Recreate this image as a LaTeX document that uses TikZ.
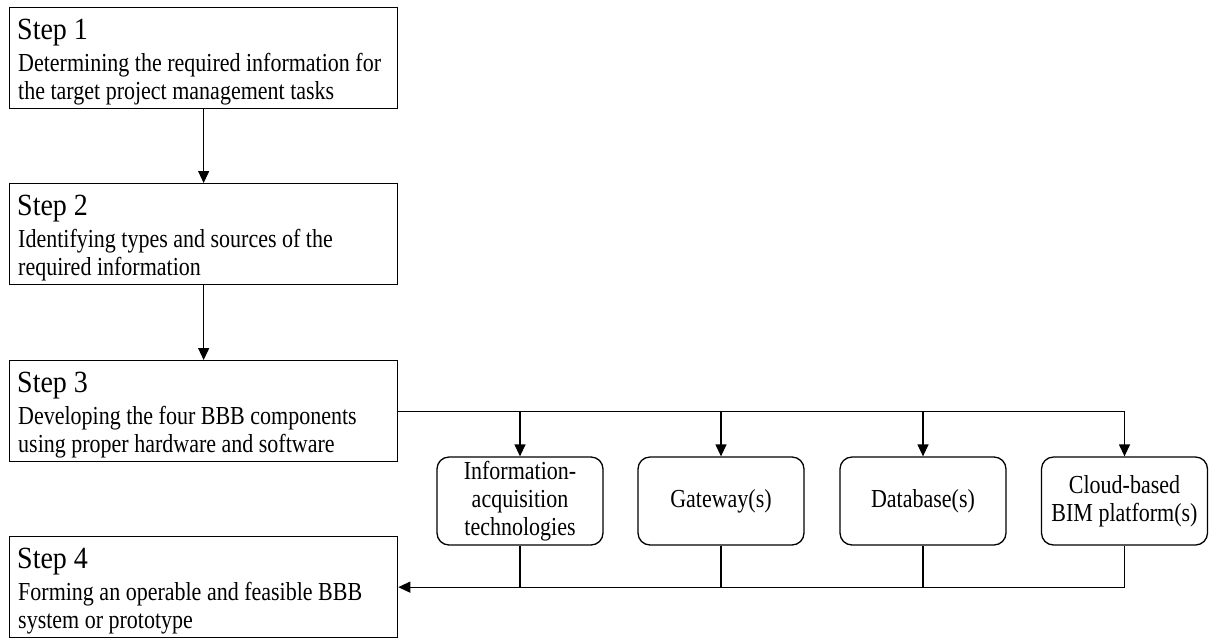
\documentclass[tikz,border=0pt]{standalone}
\usepackage{fontspec}
\setmainfont{Liberation Serif}
\usetikzlibrary{arrows.meta,calc}
\newcommand\talltxt[1]{\scalebox{1}[1.18]{#1}}
\newcommand\talltitle[1]{\scalebox{1}[1.1]{#1}}
\begin{document}
\begin{tikzpicture}[x=1pt,y=-1pt,
 stepbox/.style={draw,line width=1.3pt,minimum width=388pt,minimum height=101pt,inner sep=0pt,anchor=north west},
 comp/.style={draw,line width=1.3pt,rounded corners=12pt,minimum width=166pt,minimum height=88pt,align=center,font=\fontsize{22}{28}\selectfont,inner sep=0pt},
 ttl/.style={anchor=base west,inner sep=0pt,font=\fontsize{28}{32}\selectfont},
 body/.style={anchor=base west,inner sep=0pt,font=\fontsize{22}{28}\selectfont},
 conn/.style={line width=1.3pt},
 arr/.style={conn,-{Triangle[length=12pt,width=11pt]}}
]
\useasboundingbox (0,0) rectangle (1210,641);

% step boxes
\node[stepbox] (s1) at (9,7) {};
\node[stepbox] (s2) at (9,183) {};
\node[stepbox] (s3) at (9,360) {};
\node[stepbox] (s4) at (9,536) {};

\node[ttl] (t1) at (17,39) {\talltitle{Step 1}};
\node[body] (t1a) at (18,71) {\talltxt{Determining the required information for}};
\node[body] (t1b) at (18,99) {\talltxt{the target project management tasks}};

\node[ttl] (t2) at (17,215) {\talltitle{Step 2}};
\node[body] (t2a) at (18,247) {\talltxt{Identifying types and sources of the}};
\node[body] (t2b) at (18,275) {\talltxt{required information}};

\node[ttl] (t3) at (17,392) {\talltitle{Step 3}};
\node[body] (t3a) at (18,424) {\talltxt{Developing the four BBB components}};
\node[body] (t3b) at (18,452) {\talltxt{using proper hardware and software}};

\node[ttl] (t4) at (17,568) {\talltitle{Step 4}};
\node[body] (t4a) at (18,600) {\talltxt{Forming an operable and feasible BBB}};
\node[body] (t4b) at (18,628) {\talltxt{system or prototype}};

% component boxes
\node[comp] (c1) at (520,501) {\talltxt{Information-}\\\talltxt{acquisition}\\\talltxt{technologies}};
\node[comp] (c2) at (721,501) {\talltxt{Gateway(s)}};
\node[comp] (c3) at (923,501) {\talltxt{Database(s)}};
\node[comp] (c4) at (1124.5,501) {\talltxt{Cloud-based}\\\talltxt{BIM platform(s)}};

% connectors between steps
\draw[arr] (s1.south) -- (s2.north);
\draw[arr] (s2.south) -- (s3.north);

% step 3 to components
\draw[conn] (s3.east) -- (c4.north |- s3.east);
\foreach \c in {c1,c2,c3,c4}
  \draw[arr] (\c.north |- s3.east) -- (\c.north);

% components to step 4
\foreach \c in {c1,c2,c3,c4}
  \draw[conn] (\c.south) -- (\c.south |- s4.east);
\draw[arr] (c4.south |- s4.east) -- (s4.east);
\end{tikzpicture}
\end{document}
